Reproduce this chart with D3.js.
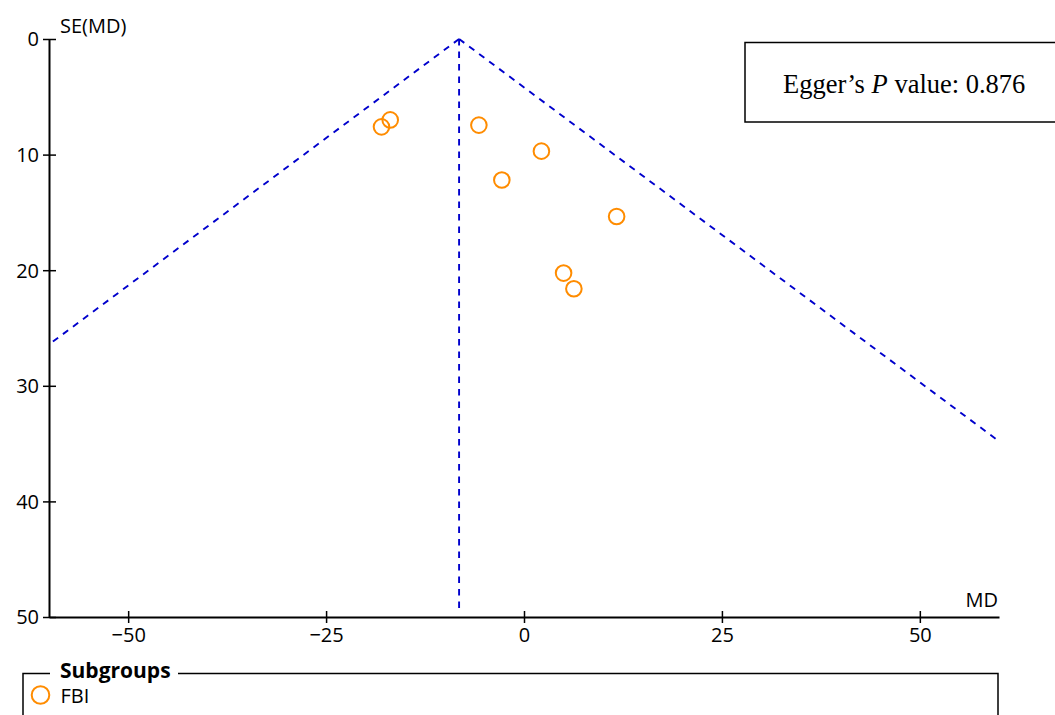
<!DOCTYPE html>
<html><head><meta charset="utf-8">
<script src="https://cdn.jsdelivr.net/npm/d3@7"></script>
<style>body{margin:0;background:#fff;} svg{display:block;}</style>
</head><body>
<script>
const studyMD = [-16.9, -18.0, -5.7, 2.2, -2.8, 11.7, 5.0, 6.3];
const studySE = [7.0, 7.6, 7.45, 9.7, 12.2, 15.35, 20.25, 21.6];
const pooledMD = -8.2;
const xTicks = [-50, -25, 0, 25, 50];
const yTicks = [0, 10, 20, 30, 40, 50];
const legendItems = ["FBI"];
const eggerText = ["Egger\u2019s ", "P", " value: 0.876"];

const W = 1055, H = 715;
const svg = d3.select("body").append("svg").attr("width", W).attr("height", H);
const x = d3.scaleLinear().domain([-60, 60]).range([49, 999]);
const y = d3.scaleLinear().domain([0, 50]).range([39, 617]);
const font = "Open Sans, DejaVu Sans, sans-serif";
const fs = 20;
const ink = "#000";

// funnel lines
const blue = "#0000CC";
const seMaxLeft = (pooledMD - (-60)) / 1.96;
const dash = "6.5,6";
const lw = 1.9;
svg.append("line").attr("x1", x(pooledMD)).attr("y1", y(0)).attr("x2", x(-60)).attr("y2", y(seMaxLeft))
  .attr("stroke", blue).attr("stroke-width", lw).attr("stroke-dasharray", dash);
svg.append("line").attr("x1", x(pooledMD)).attr("y1", y(0)).attr("x2", x(59.6)).attr("y2", y((59.6 - pooledMD) / 1.96))
  .attr("stroke", blue).attr("stroke-width", lw).attr("stroke-dasharray", dash);
svg.append("line").attr("x1", x(pooledMD)).attr("y1", y(0)).attr("x2", x(pooledMD)).attr("y2", y(49.6))
  .attr("stroke", blue).attr("stroke-width", lw).attr("stroke-dasharray", dash);

// axes
const xAxis = svg.append("g").attr("transform", `translate(0,${y(50)})`)
  .call(d3.axisBottom(x).tickValues(xTicks).tickSize(6).tickSizeOuter(0).tickFormat(d => d < 0 ? "\u2212" + Math.abs(d) : d));
xAxis.selectAll(".tick line").attr("y1", -6).attr("y2", 6).attr("stroke-width", 1.5).attr("stroke", ink);
xAxis.select(".domain").attr("stroke-width", 2).attr("stroke", ink);
xAxis.selectAll("text").attr("font-family", font).attr("font-size", fs).attr("fill", ink).attr("y", 6).attr("dy", "0.95em");

const yAxis = svg.append("g").attr("transform", `translate(${x(-60)},0)`)
  .call(d3.axisLeft(y).tickValues(yTicks).tickSize(6).tickSizeOuter(0));
yAxis.selectAll(".tick line").attr("x1", -6).attr("x2", 7).attr("stroke-width", 1.5).attr("stroke", ink);
yAxis.select(".domain").attr("stroke-width", 2).attr("stroke", ink);
yAxis.selectAll("text").attr("font-family", font).attr("font-size", fs).attr("fill", ink).attr("x", -10).attr("dy", "0.34em");

svg.append("text").attr("x", 60).attr("y", 33).attr("font-family", font).attr("font-size", fs).attr("fill", ink).text("SE(MD)");
svg.append("text").attr("x", 998).attr("y", 607).attr("text-anchor", "end").attr("font-family", font).attr("font-size", fs).attr("fill", ink).text("MD");

// points
const orange = "#FF8C00";
svg.append("g").selectAll("circle").data(studyMD.map((m, i) => [m, studySE[i]])).join("circle")
  .attr("cx", d => x(d[0])).attr("cy", d => y(d[1])).attr("r", 7.8)
  .attr("fill", "none").attr("stroke", orange).attr("stroke-width", 2);

// Egger box
svg.append("rect").attr("x", 745).attr("y", 42.5).attr("width", 330).attr("height", 79.5)
  .attr("fill", "#fff").attr("stroke", ink).attr("stroke-width", 1.5);
const et = svg.append("text").attr("x", 783).attr("y", 93).attr("font-family", "Liberation Serif, Times New Roman, serif").attr("font-size", 26.5).attr("fill", ink);
et.selectAll("tspan").data(eggerText).join("tspan").attr("font-style", (d, i) => i === 1 ? "italic" : "normal").text(d => d);

// Legend
const lg = svg.append("g");
lg.append("path").attr("d", `M50,673.5 H23 V716 M178,673.5 H998 V716`).attr("fill", "none").attr("stroke", ink).attr("stroke-width", 1.5);
lg.append("text").attr("x", 60).attr("y", 678).attr("font-family", font).attr("font-weight", "bold").attr("font-size", 21).attr("fill", ink).text("Subgroups");
lg.selectAll("circle.l").data(legendItems).join("circle").attr("class", "l")
  .attr("cx", 40.5).attr("cy", (d, i) => 695 + i * 22).attr("r", 8.8)
  .attr("fill", "none").attr("stroke", orange).attr("stroke-width", 2);
lg.selectAll("text.l").data(legendItems).join("text").attr("class", "l")
  .attr("x", 60.5).attr("y", (d, i) => 702.5 + i * 22).attr("font-family", font).attr("font-size", fs).attr("fill", ink).text(d => d);
</script>
</body></html>
